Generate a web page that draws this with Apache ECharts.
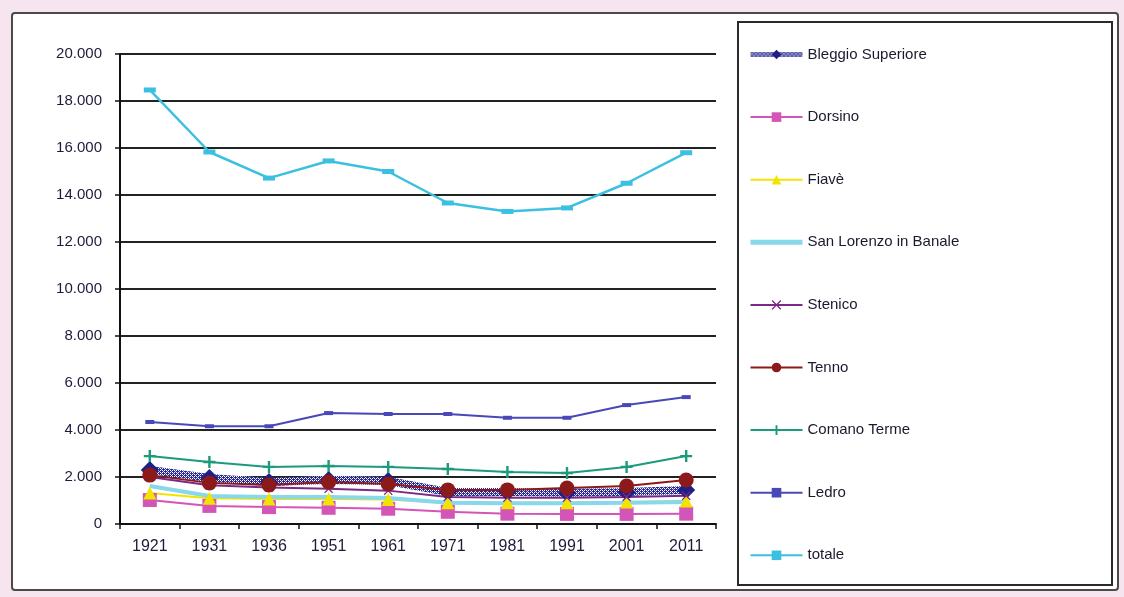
<!DOCTYPE html>
<html>
<head>
<meta charset="utf-8">
<script src="https://cdn.jsdelivr.net/npm/echarts@6/dist/echarts.min.js"></script>
<style>
  html, body { margin: 0; padding: 0; background: #f6e4ef; }
  #chart { width: 1124px; height: 597px; }
</style>
</head>
<body>
<div id="chart"></div>
<script>
// Census years
const years = ['1921', '1931', '1936', '1951', '1961', '1971', '1981', '1991', '2001', '2011'];

// Resident population per municipality
const bleggioSuperiore = [2300, 1960, 1790, 1870, 1830, 1360, 1360, 1330, 1360, 1450];
const dorsino          = [1020, 770, 720, 690, 650, 520, 440, 430, 430, 440];
const fiave            = [1320, 1100, 1060, 1060, 1040, 900, 900, 900, 940, 980];
const sanLorenzo       = [1620, 1190, 1150, 1150, 1110, 900, 880, 880, 900, 940];
const stenico          = [2000, 1650, 1550, 1500, 1420, 1150, 1120, 1120, 1150, 1200];
const tenno            = [2080, 1750, 1660, 1790, 1700, 1450, 1450, 1530, 1620, 1870];
const comanoTerme      = [2890, 2640, 2430, 2470, 2430, 2340, 2210, 2170, 2430, 2890];
const ledro            = [4340, 4160, 4160, 4720, 4680, 4680, 4520, 4520, 5060, 5400];
const totale           = [18470, 15830, 14720, 15450, 15000, 13660, 13300, 13450, 14500, 15800];

// Y axis range
const yMin = 0, yMax = 20000, yStep = 2000;

// Checkered fill used for the Bleggio Superiore band
function checkerPattern() {
  const c = document.createElement('canvas');
  c.width = 4; c.height = 4;
  const g = c.getContext('2d');
  g.fillStyle = '#2a2a90';
  g.fillRect(0, 0, 4, 4);
  g.fillStyle = '#ffffff';
  g.fillRect(0, 0, 1, 1);
  g.fillRect(2, 2, 1, 1);
  g.fillRect(2, 0, 1, 1);
  g.fillRect(0, 2, 1, 1);
  g.fillStyle = '#c8c8ee';
  g.fillRect(1, 1, 1, 1);
  g.fillRect(3, 3, 1, 1);
  return c;
}

const plus = 'path://M4,0H6V4H10V6H6V10H4V6H0V4H4Z';
const cross = 'path://M1,0L5,4L9,0L10,1L6,5L10,9L9,10L5,6L1,10L0,9L4,5L0,1Z';
const dash = 'path://M0,0H10V4H0Z';

function fmt(v) {
  return v === 0 ? '0' : String(v).replace(/\B(?=(\d{3})+(?!\d))/g, '.');
}

const chart = echarts.init(document.getElementById('chart'));

function lineSeries(name, data, color, symbol, size, width, extra) {
  return Object.assign({
    name: name,
    type: 'line',
    data: data,
    symbol: symbol,
    symbolSize: size,
    showSymbol: symbol !== 'none',
    lineStyle: { color: color, width: width },
    itemStyle: { color: color },
    emphasis: { disabled: true },
    z: 3
  }, extra || {});
}

const pattern = { image: checkerPattern(), repeat: 'repeat' };

chart.setOption({
  animation: false,
  backgroundColor: 'transparent',
  textStyle: { fontFamily: 'Liberation Sans' },
  graphic: [
    {
      type: 'rect', z: -10, silent: true,
      shape: { x: 12, y: 13, width: 1106, height: 577, r: 3 },
      style: { fill: '#ffffff', stroke: '#4a4a4a', lineWidth: 2 }
    },
    {
      type: 'rect', z: -9, silent: true,
      shape: { x: 738, y: 22, width: 374, height: 563 },
      style: { fill: '#ffffff', stroke: '#2a2a2a', lineWidth: 2 }
    }
  ],
  grid: { left: 120, right: 408, top: 54, bottom: 73, containLabel: false },
  legend: {
    orient: 'vertical',
    left: 748,
    top: 47,
    padding: 0,
    itemWidth: 52,
    itemHeight: 12,
    itemGap: 47.6,
    selectedMode: false,
    textStyle: { fontSize: 15, color: '#1a1a2e', fontFamily: 'Liberation Sans' },
    data: [
      { name: 'Bleggio Superiore', lineStyle: { width: 5 } },
      'Dorsino', 'Fiavè',
      { name: 'San Lorenzo in Banale', itemStyle: { opacity: 0 }, lineStyle: { width: 5 } },
      'Stenico', 'Tenno', 'Comano Terme', 'Ledro', 'totale'
    ]
  },
  xAxis: {
    type: 'category',
    data: years,
    boundaryGap: true,
    axisLine: { lineStyle: { color: '#111', width: 2 } },
    axisTick: { show: true, length: 5, lineStyle: { color: '#111', width: 1.5 } },
    axisLabel: { fontSize: 16, color: '#1c1c3a', margin: 15 },
    splitLine: { show: false }
  },
  yAxis: {
    type: 'value',
    min: yMin, max: yMax, interval: yStep,
    axisLine: { show: true, lineStyle: { color: '#111', width: 2 } },
    axisTick: { show: true, length: 5, lineStyle: { color: '#111', width: 1.5 } },
    axisLabel: { fontSize: 15, color: '#1c1c3a', margin: 18, formatter: fmt },
    splitLine: { lineStyle: { color: '#222', width: 2 } }
  },
  series: [
    lineSeries('Bleggio Superiore', bleggioSuperiore, '#1f1f86', 'diamond', 18, 8,
      { lineStyle: { color: pattern, width: 8 }, itemStyle: { color: '#1f1f86' } }),
    lineSeries('Dorsino', dorsino, '#d455b8', 'rect', 14, 2),
    lineSeries('Fiavè', fiave, '#f2e400', 'triangle', 13, 2),
    lineSeries('San Lorenzo in Banale', sanLorenzo, '#86d8ea', 'none', 0, 4),
    lineSeries('Stenico', stenico, '#7a2a86', cross, 9, 2),
    lineSeries('Tenno', tenno, '#8c1a1a', 'circle', 15, 2),
    lineSeries('Comano Terme', comanoTerme, '#1c9a7c', plus, 12, 2),
    lineSeries('Ledro', ledro, '#4848b8', dash, [9, 4], 2),
    lineSeries('totale', totale, '#3cc0e2', dash, [12, 5], 2.5)
  ]
});
</script>
</body>
</html>
